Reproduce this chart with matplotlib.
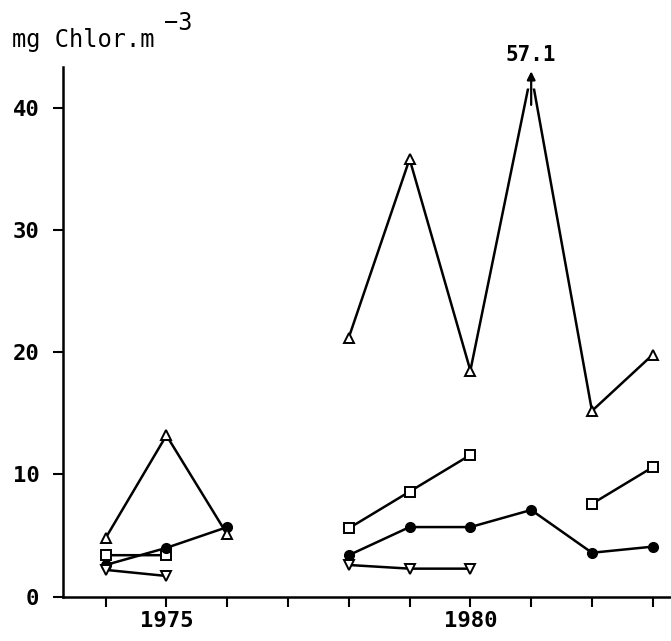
import numpy as np
import matplotlib
matplotlib.use("Agg")
import matplotlib.pyplot as plt

nan = np.nan
years = [1974, 1975, 1976, 1977, 1978, 1979, 1980, 1981, 1982, 1983]

# up triangles; 1981 is off scale (57.1), drawn capped at the top
tri_up = [4.8, 13.2, 5.1, nan, 21.2, 35.8, 18.5, 57.1, 15.2, 19.8]
squares = [3.4, 3.4, nan, nan, 5.6, 8.6, 11.6, nan, 7.6, 10.6]
circles = [2.6, 4.0, 5.7, nan, 3.4, 5.7, 5.7, 7.1, 3.6, 4.1]
tri_down = [2.2, 1.7, nan, nan, 2.6, 2.3, 2.3, nan, nan, nan]

off_scale_year = 1981
off_scale_label = "57.1"
cap = 42.8

mono = "DejaVu Sans Mono"

fig = plt.figure(figsize=(6.71, 6.41), dpi=100)
ax = fig.add_axes([0.094, 0.069, 0.906, 0.826])

x = np.array(years)
up = np.array(tri_up, dtype=float)
up_marks = up.copy()
up_marks[up > cap] = nan
up_line = np.minimum(up, cap)

lw = 1.8
ax.plot(x, up_line, color="black", lw=lw, zorder=2)
ax.plot(x, up_marks, ls="none", marker="^", ms=7.5, mfc="white", mec="black", mew=1.4, zorder=4)
ax.plot(x, squares, color="black", lw=lw, marker="s", ms=7.5, mfc="white", mec="black", mew=1.4)
ax.plot(x, circles, color="black", lw=lw, marker="o", ms=7, mfc="black", mec="black")
ax.plot(x, tri_down, color="black", lw=lw, marker="v", ms=7.5, mfc="white", mec="black", mew=1.4)

# small gap where the two lines run off the scale
ax.plot([off_scale_year, off_scale_year], [41.6, 43.5], color="white", lw=9,
        solid_capstyle="butt", zorder=3, clip_on=False)
ax.annotate("", xy=(off_scale_year, 43.2), xytext=(off_scale_year, 40.0),
            arrowprops=dict(arrowstyle="-|>", color="black", lw=1.6, mutation_scale=12),
            annotation_clip=False, zorder=5)
ax.text(off_scale_year, 43.5, off_scale_label, ha="center", va="bottom",
        fontsize=15, fontweight="bold", family=mono, clip_on=False)

ax.set_xlim(1973.3, 1983.3)
ax.set_ylim(0, 43.3)
ax.spines["top"].set_visible(False)
ax.spines["right"].set_visible(False)
ax.spines["left"].set_linewidth(1.8)
ax.spines["bottom"].set_linewidth(1.8)

ax.set_xticks(years)
ax.set_xticklabels(["1975" if y == 1975 else "1980" if y == 1980 else "" for y in years])
ax.set_yticks([0, 10, 20, 30, 40])
ax.tick_params(axis="both", which="major", direction="out", length=7, width=1.5,
               labelsize=16)
ax.tick_params(axis="y", pad=10)
for lab in ax.get_xticklabels() + ax.get_yticklabels():
    lab.set_fontweight("bold")
    lab.set_family(mono)

fig.text(0.018, 0.927, "mg Chlor.m", fontsize=17, family=mono, ha="left", va="baseline")
fig.text(0.245, 0.953, "\u22123", fontsize=17, family=mono, ha="left", va="baseline")

fig.savefig("out.png", dpi=100)
